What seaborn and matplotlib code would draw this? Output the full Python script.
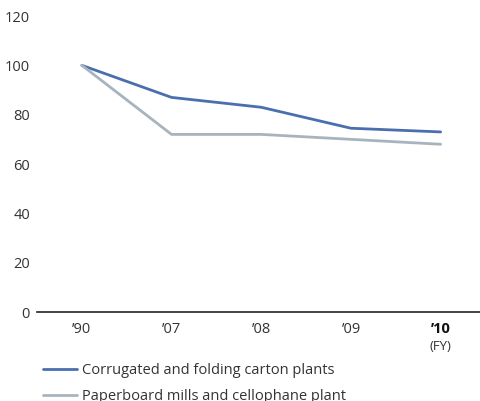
import matplotlib
matplotlib.use("Agg")
import matplotlib.pyplot as plt
import pandas as pd
import seaborn as sns

# data
years = ["’90", "’07", "’08", "’09", "’10"]
corrugated = [100, 87, 83, 74.5, 73]
paperboard = [100, 72, 72, 70, 68]
series_names = ["Corrugated and folding carton plants",
                "Paperboard mills and cellophane plant"]
y_ticks = [0, 20, 40, 60, 80, 100, 120]

df = pd.DataFrame({
    "pos": list(range(len(years))) * 2,
    "value": corrugated + paperboard,
    "series": [series_names[0]] * len(years) + [series_names[1]] * len(years),
})

sns.set_style("white")
plt.rcParams["font.family"] = ["Open Sans", "DejaVu Sans"]

fig = plt.figure(figsize=(4.81, 4.01), dpi=100)
ax = fig.add_axes([37 / 481, 89 / 401, 444 / 481, 296 / 401])

cdict = {series_names[0]: "#4a6fae", series_names[1]: "#a8b4bd"}
sns.lineplot(data=df, x="pos", y="value", hue="series", palette=cdict,
             linewidth=2, ax=ax, legend=True)

ax.set_xlim(-0.5, 4.45)
ax.set_ylim(0, 120)
ax.set_yticks(y_ticks)
ax.set_xticks(range(len(years)))
ax.set_xticklabels(years)
ax.set_xlabel("")
ax.set_ylabel("")

for s in ["top", "right", "left"]:
    ax.spines[s].set_visible(False)
ax.spines["bottom"].set_color("#222222")
ax.spines["bottom"].set_linewidth(1.2)

ax.tick_params(axis="y", length=0, pad=5, labelsize=10.5, labelcolor="#333333")
ax.tick_params(axis="x", length=0, pad=7, labelsize=10.5, labelcolor="#333333")
labs = ax.get_xticklabels()
labs[-1].set_fontweight("bold")
labs[-1].set_color("#111111")

ax.text(4, -0.118, "(FY)", transform=ax.get_xaxis_transform(), ha="center",
        va="center", fontsize=9.5, color="#333333")

leg = ax.legend(loc="upper left", bbox_to_anchor=(0.001, -0.153), frameon=False,
                fontsize=10.5, handlelength=2.33, handletextpad=0.34,
                labelspacing=0.72, borderaxespad=0)
for t in leg.get_texts():
    t.set_color("#333333")

fig.savefig("out.png", dpi=100)
